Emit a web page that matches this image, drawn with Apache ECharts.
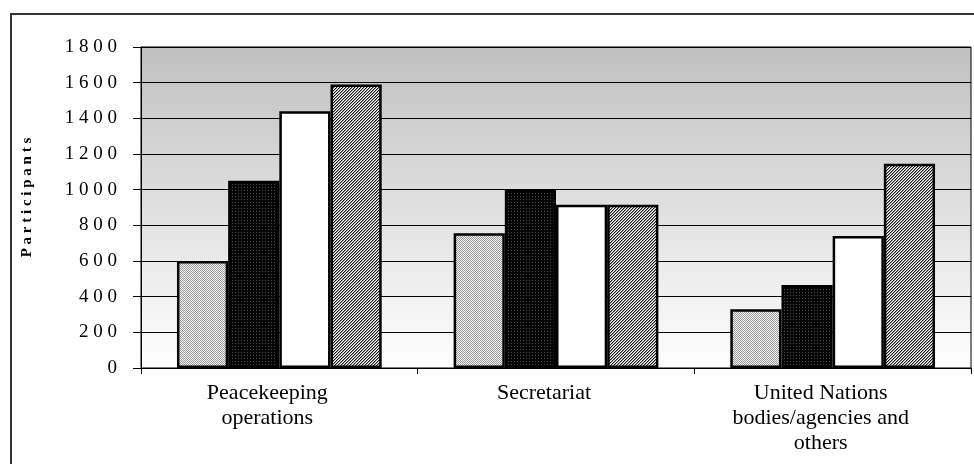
<!DOCTYPE html>
<html>
<head>
<meta charset="utf-8">
<script src="https://cdn.jsdelivr.net/npm/echarts@6/dist/echarts.min.js"></script>
<style>
  html, body { margin: 0; padding: 0; background: #fff; }
  #chart { width: 974px; height: 464px; }
</style>
</head>
<body>
<div id="chart"></div>
<script>
// Training participants by destination, four reporting periods
const categories = [
  'Peacekeeping\noperations',
  'Secretariat',
  'United Nations\nbodies/agencies and\nothers'
];
const seriesNames = ['Period 1', 'Period 2', 'Period 3', 'Period 4'];
const period1 = [600, 755, 330];
const period2 = [1050, 1000, 465];
const period3 = [1440, 915, 740];
const period4 = [1590, 915, 1145];
const yAxisTitle = 'Participants';

const FONT = "'Liberation Serif', 'Times New Roman', serif";

// Small repeating fills for the bar textures
function tile(size, paint) {
  const c = document.createElement('canvas');
  c.width = size; c.height = size;
  const ctx = c.getContext('2d');
  paint(ctx, size);
  return { image: c, repeat: 'repeat' };
}
const dotted = tile(2, (ctx) => {
  ctx.fillStyle = '#f2f2f2'; ctx.fillRect(0, 0, 2, 2);
  ctx.fillStyle = '#9c9c9c'; ctx.fillRect(0, 0, 1, 1); ctx.fillRect(1, 1, 1, 1);
});
const darkDots = tile(3, (ctx) => {
  ctx.fillStyle = '#050505'; ctx.fillRect(0, 0, 3, 3);
  ctx.fillStyle = '#4a4a4a'; ctx.fillRect(1, 1, 1, 1);
});
const hatched = tile(3, (ctx) => {
  ctx.fillStyle = '#ffffff'; ctx.fillRect(0, 0, 3, 3);
  for (let x = 0; x < 3; x++) for (let y = 0; y < 3; y++) {
    const k = (x + y) % 3;
    if (k === 0) { ctx.fillStyle = '#1e1e1e'; ctx.fillRect(x, y, 1, 1); }
    else if (k === 1) { ctx.fillStyle = '#9a9a9a'; ctx.fillRect(x, y, 1, 1); }
  }
});
const fills = [dotted, darkDots, '#ffffff', hatched];
const values = [period1, period2, period3, period4];

const chart = echarts.init(document.getElementById('chart'), null, { renderer: 'canvas' });

chart.setOption({
  animation: false,
  backgroundColor: '#ffffff',
  grid: {
    left: 141, right: 3, top: 47, bottom: 96,
    show: true,
    borderColor: '#000', borderWidth: 1,
    backgroundColor: {
      type: 'linear', x: 0, y: 0, x2: 0, y2: 1,
      colorStops: [
        { offset: 0, color: '#c0c0c0' },
        { offset: 1, color: '#ffffff' }
      ]
    }
  },
  graphic: [
    {
      type: 'rect', silent: true, z: 100,
      shape: { x: 11, y: 14, width: 1000, height: 500 },
      style: { fill: 'none', stroke: '#333', lineWidth: 2 }
    },
    {
      type: 'text', silent: true,
      x: 27.5, y: 197.5, rotation: Math.PI / 2,
      style: {
        text: yAxisTitle.split('').join(' '),
        font: 'bold 15px ' + FONT,
        fill: '#000', align: 'center', verticalAlign: 'middle'
      }
    }
  ],
  xAxis: {
    type: 'category',
    data: categories,
    axisLine: { lineStyle: { color: '#000', width: 1 } },
    axisTick: { show: true, length: 6, lineStyle: { color: '#000' } },
    axisLabel: {
      fontFamily: FONT, fontSize: 22, color: '#000',
      lineHeight: 25, margin: 13, interval: 0,
      padding: [0, 24, 0, 0]
    },
    splitLine: { show: false }
  },
  yAxis: {
    type: 'value',
    min: 0, max: 1800, interval: 200,
    axisLine: { show: true, lineStyle: { color: '#000', width: 1 } },
    axisTick: { show: true, length: 8, lineStyle: { color: '#000' } },
    axisLabel: {
      fontFamily: FONT, fontSize: 19, color: '#000', margin: 24,
      formatter: (v) => String(v).split('').join(' ')
    },
    splitLine: { show: true, lineStyle: { color: '#000', width: 1 } }
  },
  series: seriesNames.map((name, i) => ({
    name,
    type: 'bar',
    data: values[i],
    barGap: '0%',
    barCategoryGap: '26%',
    itemStyle: { color: fills[i], borderColor: '#000', borderWidth: 2.5 }
  }))
});
</script>
</body>
</html>
